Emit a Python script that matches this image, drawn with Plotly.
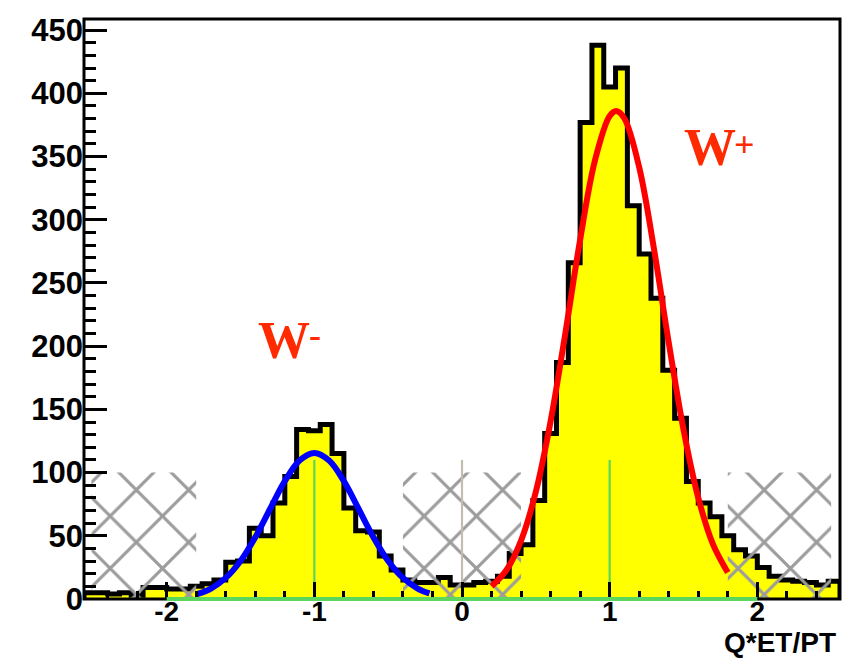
import plotly.graph_objects as go

# ---------------- data ----------------
bin_lo = -2.56
bin_width = 0.08
counts = [5, 5, 4, 5, 3, 9, 9, 8, 8, 10, 12, 15, 29, 30, 56, 50, 76, 97, 134, 133,
          138, 115, 72, 54, 53, 34, 23, 15, 13, 13, 17, 11, 11, 13, 14, 18, 36, 43,
          78, 131, 187, 266, 377, 438, 405, 420, 311, 273, 238, 181, 143, 93, 76,
          65, 50, 39, 34, 25, 18, 15, 14, 13, 11, 14]

# fitted curve W- (blue)
wminus_x = [-1.8, -1.7, -1.6, -1.5, -1.4, -1.3, -1.2, -1.1, -1.0, -0.9, -0.8,
            -0.7, -0.6, -0.5, -0.4, -0.3, -0.22]
wminus_y = [3.7, 8.3, 16.7, 30.1, 48.9, 71.2, 93.2, 109.5, 115.5, 109.5, 93.2,
            71.2, 48.9, 30.1, 16.7, 8.3, 4.4]

# fitted curve W+ (red)
wplus_x = [0.2, 0.3, 0.4, 0.5, 0.6, 0.7, 0.8, 0.9, 1.0, 1.045, 1.1, 1.2, 1.3,
           1.4, 1.5, 1.6, 1.7, 1.8]
wplus_y = [10.1, 22.7, 46.2, 84.8, 140.5, 210.3, 284.2, 346.7, 382.0, 386.0,
           380.1, 341.5, 277.0, 202.9, 134.2, 80.1, 43.2, 21.0]

# hatched (excluded) regions
hatch_lo = [-2.51, -0.4, 1.8]
hatch_hi = [-1.8, 0.4, 2.5]
hatch_height = 100

# marker lines
green_marks = [-1, 1]
gray_marks = [0]
mark_height = 110
baseline_range = [-2, 2]

x_ticks = [-2, -1, 0, 1, 2]
x_ticktext = ["-2", "-1", "0", "1", "2"]
x_range = [-2.56, 2.56]
y_max = 458.8

# ---------------- figure ----------------
fig = go.Figure()

edges = [bin_lo + i * bin_width for i in range(len(counts) + 1)]
hx = [edges[0]] + edges + [edges[-1]]
hy = [0] + counts + [counts[-1], 0]
fig.add_trace(go.Scatter(x=hx, y=hy, mode="lines", line=dict(shape="hv", color="black", width=5),
                         fill="tozeroy", fillcolor="#ffff00", hoverinfo="skip"))

for lo, hi in zip(hatch_lo, hatch_hi):
    fig.add_trace(go.Scatter(x=[lo, lo, hi, hi, lo], y=[0, hatch_height, hatch_height, 0, 0],
                             mode="lines", line=dict(width=0, color="rgba(0,0,0,0)"),
                             fill="toself", fillcolor="rgba(0,0,0,0)",
                             fillpattern=dict(shape="x", fgcolor="#9c9c9c", size=37,
                                              solidity=0.16, fillmode="replace"),
                             hoverinfo="skip"))

for m in green_marks:
    fig.add_trace(go.Scatter(x=[m, m], y=[0, mark_height], mode="lines",
                             line=dict(color="#5cd65c", width=2.2), hoverinfo="skip"))
for m in gray_marks:
    fig.add_trace(go.Scatter(x=[m, m], y=[0, mark_height], mode="lines",
                             line=dict(color="#c4bcae", width=2.2), hoverinfo="skip"))

fig.add_trace(go.Scatter(x=wminus_x, y=wminus_y, mode="lines",
                         line=dict(color="#0000ff", width=6, shape="spline"), hoverinfo="skip"))
fig.add_trace(go.Scatter(x=wplus_x, y=wplus_y, mode="lines",
                         line=dict(color="#ff0000", width=6, shape="spline"), hoverinfo="skip"))

# frame, then the green baseline drawn over its bottom edge
fig.add_shape(type="rect", x0=0, x1=1, y0=0, y1=1, xref="paper", yref="paper",
              line=dict(color="black", width=3), fillcolor="rgba(0,0,0,0)", layer="above")
fig.add_shape(type="line", x0=baseline_range[0], x1=baseline_range[1], y0=0, y1=0,
              xref="x", yref="paper", line=dict(color="#5cd65c", width=4), layer="above")

xfont = dict(family="Liberation Sans", size=28, color="black", weight="bold")
yfont = dict(family="Liberation Sans", size=31, color="black", weight="bold")
fig.update_xaxes(range=x_range, tickvals=x_ticks, ticktext=x_ticktext, ticks="inside", ticklen=17,
                 tickwidth=2.5, tickcolor="black", showline=False, ticklabeloverflow="allow",
                 showgrid=False, zeroline=False, tickfont=xfont, ticklabelstandoff=-7,
                 minor=dict(ticks="inside", ticklen=8, tickwidth=2.5, tickcolor="black",
                            dtick=0.2, tick0=0, showgrid=False))
fig.update_yaxes(range=[0, y_max], dtick=50, tick0=0, ticks="inside", ticklen=23, tickwidth=2.5,
                 tickcolor="black", showline=False, ticklabeloverflow="allow",
                 showgrid=False, zeroline=False, tickfont=yfont,
                 minor=dict(ticks="inside", ticklen=12, tickwidth=2.5, tickcolor="black",
                            dtick=10, tick0=0, showgrid=False))

serif = "Liberation Serif"
wcol = "#ff2a00"
fig.add_annotation(x=-1.206, y=204.6, text="W", showarrow=False, xanchor="center", yanchor="middle",
                   font=dict(family=serif, size=52, color=wcol, weight="bold"))
fig.add_annotation(x=-0.995, y=209, text="-", showarrow=False, xanchor="center", yanchor="middle",
                   font=dict(family=serif, size=36, color=wcol, weight="bold"))
fig.add_annotation(x=1.682, y=357.2, text="W", showarrow=False, xanchor="center", yanchor="middle",
                   font=dict(family=serif, size=52, color=wcol, weight="bold"))
fig.add_annotation(x=1.91, y=359.5, text="+", showarrow=False, xanchor="center", yanchor="middle",
                   font=dict(family=serif, size=36, color=wcol, weight="bold"))

fig.add_annotation(x=1, y=-0.075, xref="paper", yref="paper", text="Q*ET/PT", showarrow=False,
                   xanchor="right", yanchor="middle", xshift=-2,
                   font=dict(family="Liberation Sans", size=28, color="black", weight="bold"))

fig.update_layout(width=854, height=652, margin=dict(l=76, r=22, t=5, b=61),
                  plot_bgcolor="white", paper_bgcolor="white", showlegend=False,
                  font=dict(family="Liberation Sans"))

fig.write_html("out.html")
